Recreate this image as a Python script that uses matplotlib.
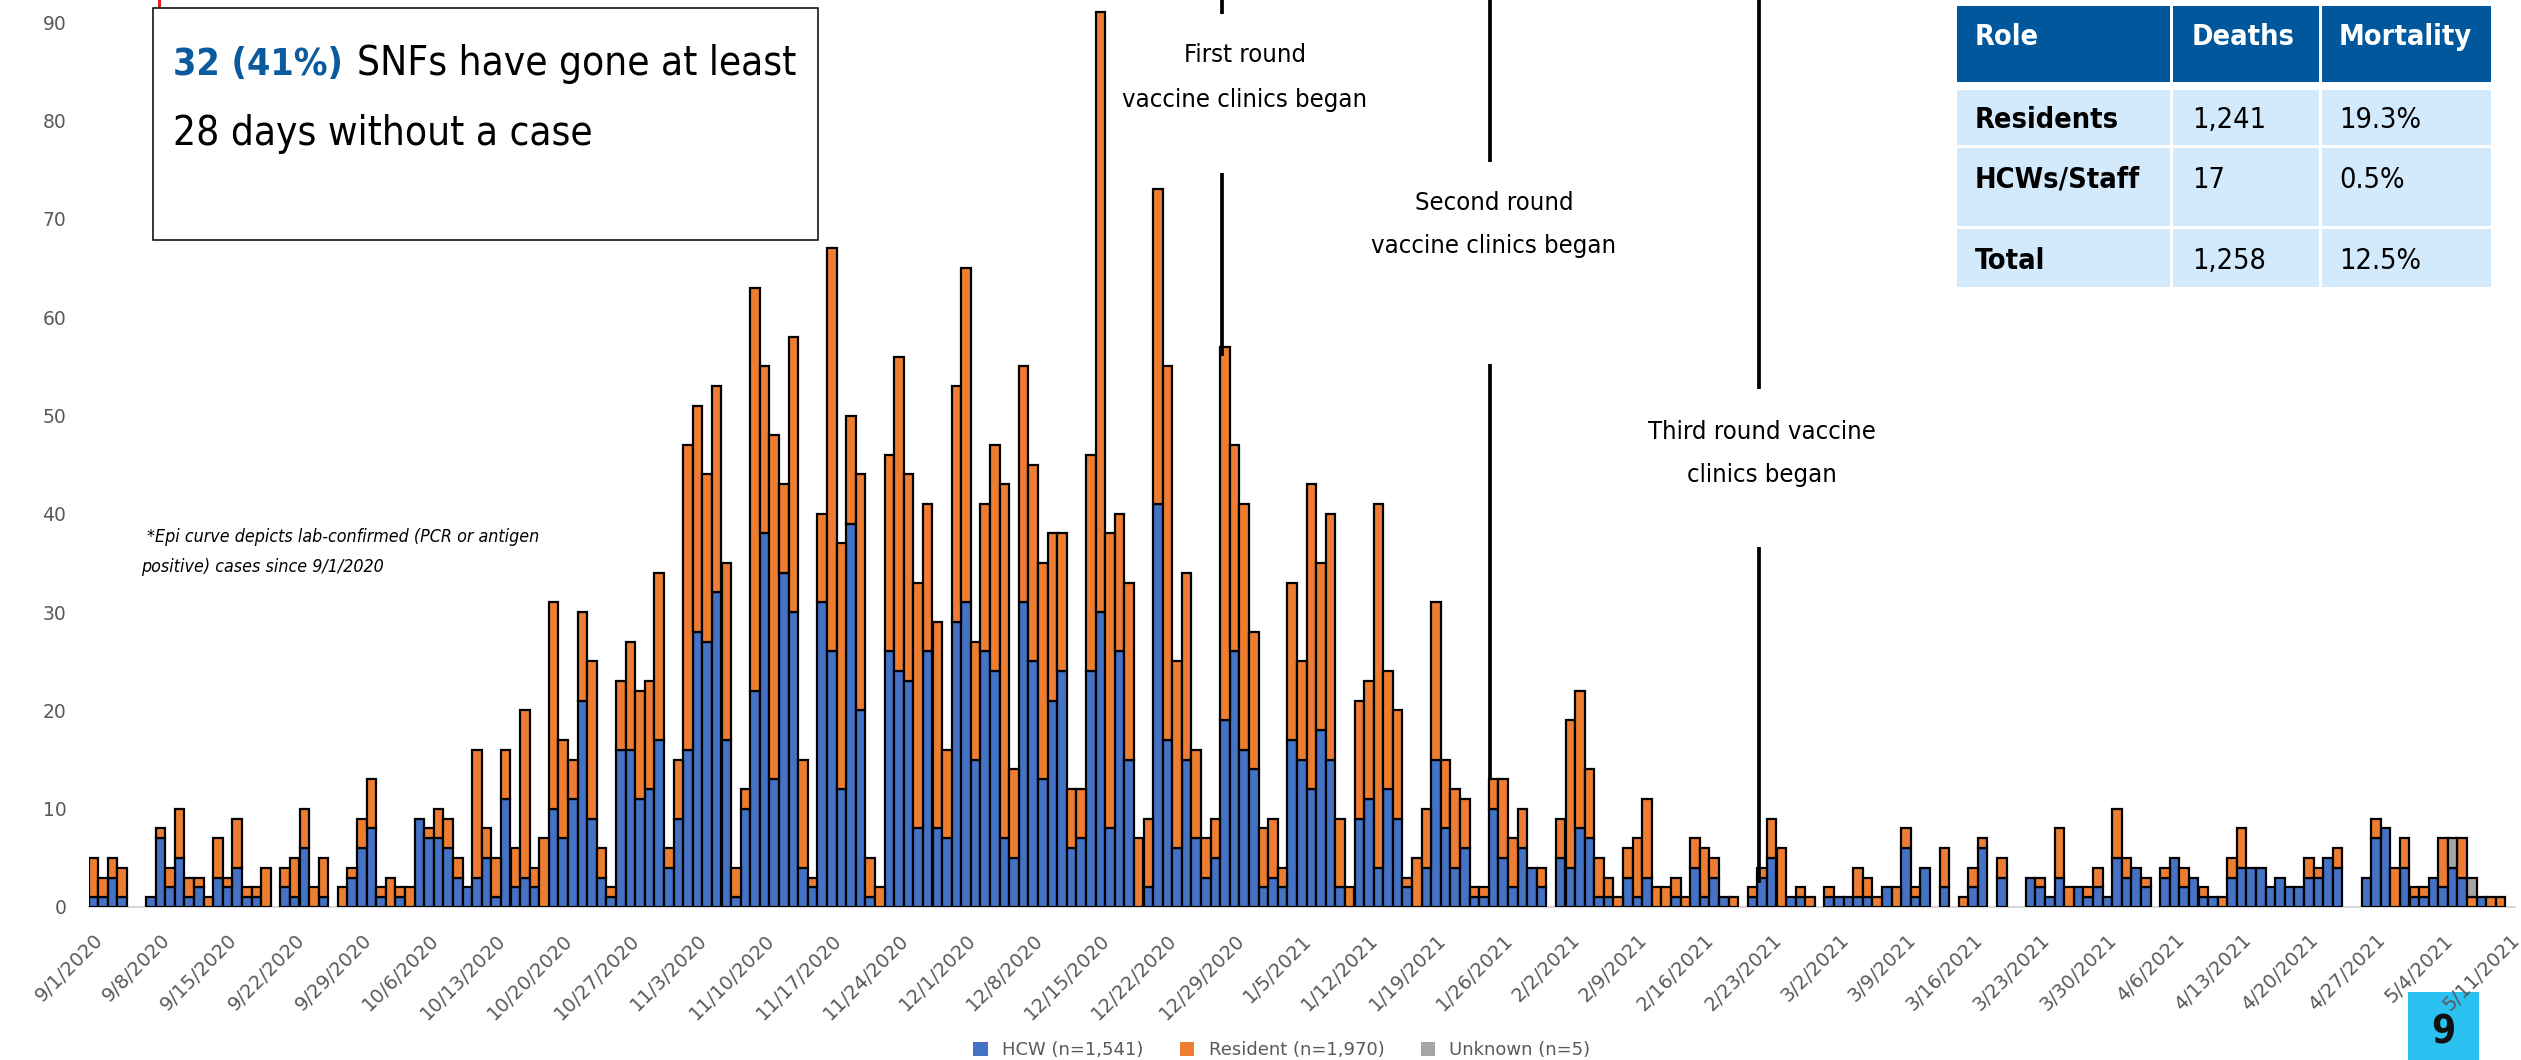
import os
import numpy as np
import pandas as pd
import matplotlib
matplotlib.use("Agg")
import matplotlib.pyplot as plt
import matplotlib.dates as mdates
import matplotlib.font_manager as fm
from matplotlib.patches import Rectangle, Patch
from matplotlib.lines import Line2D

# ---------------------------------------------------------------- data
start_date = "2020-09-01"
end_date = "2021-05-11"

# daily cases, HCW (blue, bottom of stack)
hcw_sep = [1,1,3,1,0,0,1, 7,2,5,1,2,0,3, 2,4,1,1,0,0,2, 1,6,0,1,0,0,3, 6,8]
hcw_oct = [1,0,1,0,9,7,7, 6,3,2,3,5,1,11, 2,3,2,0,10,7,11, 21,9,3,1,16,16,11, 12,17,4]
hcw_nov = [9,16,28,27,32,17,1, 10,22,38,13,34,30,4, 2,31,26,12,39,20,1, 0,26,24,23,8,26,8, 7,29]
hcw_dec = [31,15,26,24,7,5,31, 25,13,21,24,6,7,24, 30,8,26,15,0,2,41, 17,6,15,7,3,5,19, 26,16,14]
hcw_jan = [2,3,2,17,15,12,18, 15,2,0,9,11,4,12, 9,2,0,4,15,8,4, 6,1,1,10,5,2,6, 4,2,0]
hcw_feb = [5,4,8,7,1,1,0, 3,1,3,0,0,1,0, 4,1,3,1,0,0,1, 3,5,0,1,1,0,0]
hcw_mar = [1,1,1,1,1,0,2, 0,6,1,4,0,2,0, 0,2,6,0,3,0,0, 3,2,1,3,0,2,1, 2,1,5]
hcw_apr = [3,4,2,0,3,5,2, 3,1,1,0,3,4,4, 4,2,3,2,2,3,3, 5,4,0,0,3,7,8, 0,4]
hcw_may = [1,1,3,2,4,3,0, 1,0,0,0]

# daily cases, Residents (orange, stacked on HCW)
res_sep = [4,2,2,3,0,0,0, 1,2,5,2,1,1,4, 1,5,1,1,4,0,2, 4,4,2,4,0,2,1, 3,5]
res_oct = [1,3,1,2,0,1,3, 3,2,0,13,3,4,5, 4,17,2,7,21,10,4, 9,16,3,1,7,11,11, 11,17,2]
res_nov = [6,31,23,17,21,18,3, 2,41,17,35,9,28,11, 1,9,41,25,11,24,4, 2,20,32,21,25,15,21, 9,24]
res_dec = [34,12,15,23,36,9,24, 20,22,17,14,6,5,22, 61,30,14,18,7,7,32, 38,19,19,9,4,4,38, 21,25,14]
res_jan = [6,6,2,16,10,31,17, 25,7,2,12,12,37,12, 11,1,5,6,16,7,8, 5,1,1,3,8,5,4, 0,2,0]
res_feb = [4,15,14,7,4,2,1, 3,6,8,2,2,2,1, 3,5,2,0,1,0,1, 1,4,6,0,1,1,0]
res_mar = [1,0,0,3,2,1,0, 2,2,1,0,0,4,0, 1,2,1,0,2,0,0, 0,1,0,5,2,0,1, 2,0,5]
res_apr = [2,0,1,0,1,0,2, 0,1,0,1,2,4,0, 0,0,0,0,0,2,1, 0,2,0,0,0,2,0, 4,3]
res_may = [1,1,0,5,0,4,1, 0,1,1,0]

# daily cases, Unknown (gray, top of stack)
unknown_dates = ["2021-05-05", "2021-05-07"]
unknown_vals = [3, 2]

legend_labels = ["HCW (n=1,541)", "Resident (n=1,970)", "Unknown (n=5)"]

vaccine_dates = ["2020-12-28", "2021-01-25", "2021-02-22"]
vaccine_labels = [["First round", "vaccine clinics began"],
                  ["Second round", "vaccine clinics began"],
                  ["Third round vaccine", "clinics began"]]

headline_num = "32 (41%)"
headline_rest = "SNFs have gone at least"
headline_line2 = "28 days without a case"
footnote = ["*Epi curve depicts lab-confirmed (PCR or antigen",
            "positive) cases since 9/1/2020"]

table_header = ["Role", "Deaths", "Mortality"]
table_roles = ["Residents", "HCWs/Staff", "Total"]
table_deaths = ["1,241", "17", "1,258"]
table_mortality = ["19.3%", "0.5%", "12.5%"]
page_number = "9"

# ---------------------------------------------------------------- fonts
STYLE_WORDS = {'condensed', 'extracondensed', 'semicondensed', 'ultracondensed', 'extra', 'semi',
               'ultra', 'narrow', 'light', 'bold', 'medium', 'thin', 'black', 'semibold',
               'extrabold', 'extralight', 'regular', 'italic', 'sc', 'cond'}
ALLOWED = ['noto sans', 'dejavu sans', 'liberation sans', 'roboto', 'open sans', 'lato', 'inter']


def _weight_num(w):
    if isinstance(w, (int, float)):
        return int(w)
    return {'ultralight': 100, 'light': 300, 'normal': 400, 'regular': 400, 'book': 400,
            'medium': 500, 'roman': 400, 'semibold': 600, 'demibold': 600, 'demi': 600,
            'bold': 700, 'heavy': 800, 'extra bold': 800, 'black': 900}.get(str(w).lower(), 400)


def _cond_level(f):
    key = (f.name + os.path.basename(f.fname) + str(f.stretch)).lower()
    key = key.replace('-', '').replace(' ', '').replace('_', '')
    if 'extracondensed' in key:
        return 3
    if 'ultracondensed' in key:
        return 2.5
    if 'semicondensed' in key:
        return 1
    if 'condensed' in key or 'narrow' in key:
        return 2
    return 0


def _allowed(f):
    n = f.name.lower()
    for p in ALLOWED:
        if n.startswith(p):
            rest = n[len(p):].replace('-', ' ').split()
            if all(w in STYLE_WORDS for w in rest):
                return True
    return False


def pick_font(weight=400, italic=False):
    best, best_score = None, None
    for f in fm.fontManager.ttflist:
        if not _allowed(f):
            continue
        lvl = _cond_level(f)
        if lvl == 0:
            continue
        is_it = f.style in ('italic', 'oblique')
        if is_it != italic:
            continue
        score = lvl * 10 - abs(_weight_num(f.weight) - weight) / 50.0
        if best_score is None or score > best_score:
            best, best_score = f, score
    if best is None:
        return fm.FontProperties(family='DejaVu Sans',
                                 weight='bold' if weight >= 600 else 'normal',
                                 style='italic' if italic else 'normal')
    return fm.FontProperties(fname=best.fname)


FP_REG = pick_font(400)
FP_BOLD = pick_font(700)
FP_IT = pick_font(400, italic=True)

# ---------------------------------------------------------------- figure
W, H = 2521, 1060
fig = plt.figure(figsize=(W / 100, H / 100), dpi=100)
fig.patch.set_facecolor('white')


def fx(px):
    return px / W


def fy(py):
    return 1 - py / H


BLUE = '#4472C4'
ORANGE = '#ED7D31'
GRAY = '#A5A5A5'
TICK = '#595959'

AX_LEFT, AX_RIGHT, AX_ZERO = 88.5, 2515.0, 907.0
PX_PER_UNIT = 9.83
ax = fig.add_axes([fx(AX_LEFT), fy(AX_ZERO), (AX_RIGHT - AX_LEFT) / W, AX_ZERO / H])
ax.patch.set_visible(False)

dates = pd.date_range(start_date, end_date, freq='D')
x = mdates.date2num(dates.to_pydatetime())
hcw = np.array(hcw_sep + hcw_oct + hcw_nov + hcw_dec + hcw_jan + hcw_feb + hcw_mar + hcw_apr + hcw_may, float)
res = np.array(res_sep + res_oct + res_nov + res_dec + res_jan + res_feb + res_mar + res_apr + res_may, float)
unk = np.zeros_like(hcw)
for d, v in zip(unknown_dates, unknown_vals):
    unk[dates.get_loc(pd.Timestamp(d))] = v

LW = 1.6
ax.bar(x, hcw, width=1.0, color=BLUE, edgecolor='black', linewidth=np.where(hcw > 0, LW, 0), zorder=2)
ax.bar(x, res, width=1.0, bottom=hcw, color=ORANGE, edgecolor='black',
       linewidth=np.where(res > 0, LW, 0), zorder=2)
ax.bar(x, unk, width=1.0, bottom=hcw + res, color=GRAY, edgecolor='black',
       linewidth=np.where(unk > 0, LW, 0), zorder=2)

ax.set_xlim(x[0] - 0.5, x[-1] + 0.5)
ax.set_ylim(0, AX_ZERO / PX_PER_UNIT)
for s in ['top', 'right', 'left']:
    ax.spines[s].set_visible(False)
ax.spines['bottom'].set_color('#D9D9D9')
ax.spines['bottom'].set_linewidth(1.5)
ax.spines['bottom'].set_zorder(1)

ax.set_yticks(range(0, 91, 10))
ax.tick_params(axis='y', length=0, pad=16, labelsize=13.5, labelcolor=TICK)
tick_dates = dates[::7]
ax.set_xticks(x[::7])
ax.set_xticklabels([f"{d.month}/{d.day}/{d.year}" for d in tick_dates], rotation=45,
                   ha='right', va='top', rotation_mode='anchor')
ax.tick_params(axis='x', length=0, pad=17, labelsize=14, labelcolor=TICK)

# vaccine clinic markers
seg_sets = [[(56.1, 74.7), (90.8, 95)], [(12.9, 55.2), (75.8, 95)], [(2.4, 36.6), (52.7, 95)]]
text_offsets = [2.4, 0.4, 0.3]
text_y = [(86.0, 81.4), (70.9, 66.5), (47.6, 43.2)]
ann_texts = []
for d, labels, segs, toff, ty in zip(vaccine_dates, vaccine_labels, seg_sets, text_offsets, text_y):
    xd = mdates.date2num(pd.Timestamp(d).to_pydatetime()) - 0.35
    for y0, y1 in segs:
        ax.plot([xd, xd], [y0, y1], color='black', lw=2.7, solid_capstyle='butt', zorder=3, clip_on=True)
    for lab, yy in zip(labels, ty):
        ann_texts.append(ax.text(xd + toff, yy, lab, ha='center', va='baseline',
                                 fontproperties=FP_REG, fontsize=20, color='black', zorder=4))

# headline box
fig.patches.append(Rectangle((fx(153), fy(240)), fx(818) - fx(153), fy(8) - fy(240),
                             transform=fig.transFigure, facecolor='white', edgecolor='black',
                             linewidth=1.1, zorder=3))
t_num = fig.text(fx(173), fy(75), headline_num, fontproperties=FP_BOLD, fontsize=40,
                 color='#0A5A9E', va='baseline', ha='left', zorder=4)
t_rest = fig.text(fx(357), fy(75), headline_rest, fontproperties=FP_REG, fontsize=40,
                  color='black', va='baseline', ha='left', zorder=4)
t_l2 = fig.text(fx(173), fy(145), headline_line2, fontproperties=FP_REG, fontsize=40,
                color='black', va='baseline', ha='left', zorder=4)

# footnote
fn1 = fig.text(fx(147), fy(542), footnote[0], fontproperties=FP_IT, fontsize=16, color='black',
               va='baseline', ha='left')
fn2 = fig.text(fx(141), fy(572), footnote[1], fontproperties=FP_IT, fontsize=16, color='black',
               va='baseline', ha='left')

# table
HEAD_C = '#01579B'
CELL_C = '#D2EAFB'
col_edges = [(1957, 2170), (2173, 2319), (2322, 2491)]
row_edges = [(6, 82), (90, 145), (148, 226), (229, 287)]
row_base = [45, 128, 188, 269]
col_text_x = [1975, 2192, 2339]
for ri, (r0, r1) in enumerate(row_edges):
    for ci, (c0, c1) in enumerate(col_edges):
        fig.patches.append(Rectangle((fx(c0), fy(r1)), fx(c1) - fx(c0), fy(r0) - fy(r1),
                                     transform=fig.transFigure,
                                     facecolor=HEAD_C if ri == 0 else CELL_C,
                                     edgecolor='none', zorder=3))
tbl_texts = []
for ci, s in enumerate(table_header):
    tbl_texts.append(fig.text(fx(col_text_x[ci]), fy(row_base[0]), s, fontproperties=FP_BOLD,
                              fontsize=24, color='white', va='baseline', zorder=4))
t_hcw_role = None
for ri in range(3):
    t = fig.text(fx(col_text_x[0]), fy(row_base[ri + 1]), table_roles[ri],
                 fontproperties=FP_BOLD, fontsize=24, color='black', va='baseline', zorder=4)
    tbl_texts.append(t)
    if ri == 1:
        t_hcw_role = t
    tbl_texts.append(fig.text(fx(col_text_x[1]), fy(row_base[ri + 1]), table_deaths[ri],
                              fontproperties=FP_REG, fontsize=24, color='black',
                              va='baseline', zorder=4))
    tbl_texts.append(fig.text(fx(col_text_x[2]), fy(row_base[ri + 1]), table_mortality[ri],
                              fontproperties=FP_REG, fontsize=24, color='black',
                              va='baseline', zorder=4))

# page number box
fig.patches.append(Rectangle((fx(2408), fy(1060)), fx(2479) - fx(2408), fy(992) - fy(1060),
                             transform=fig.transFigure, facecolor='#2AC1F0', edgecolor='none',
                             zorder=-1))
pg = fig.text(fx(2443.5), fy(1043), page_number, fontproperties=FP_BOLD, fontsize=28,
              color='#111111', ha='center', va='baseline', zorder=-1)

# small red mark at the top of the headline box
fig.lines.append(Line2D([fx(159), fx(159)], [fy(0), fy(6)], transform=fig.transFigure,
                        color='#E8202A', lw=2.2))

# legend (sits at the very bottom edge, as in the source)
handles = [Patch(facecolor=c, edgecolor='none') for c in (BLUE, ORANGE, GRAY)]
fig.legend(handles, legend_labels, loc='center', bbox_to_anchor=(fx(1282), 0.0095), ncol=3,
           frameon=False, fontsize=13, labelcolor=TICK, handlelength=0.8, handleheight=0.8,
           columnspacing=2.0, borderpad=0.0, borderaxespad=0.0)

# ---------------------------------------------------------------- fit text widths
fig.canvas.draw()
rend = fig.canvas.get_renderer()


def fit(t, target):
    w = t.get_window_extent(rend).width
    if w > 0:
        t.set_fontsize(t.get_fontsize() * target / w)
    return t.get_fontsize()


fit(t_num, 170)
s = fit(t_l2, 420)
t_rest.set_fontsize(s)
s = fit(ann_texts[1], 245)
for t in ann_texts:
    t.set_fontsize(s)
s = fit(fn1, 394)
fn2.set_fontsize(s)
s = fit(t_hcw_role, 165)
for t in tbl_texts:
    t.set_fontsize(s)

fig.savefig('out.png', dpi=100)
